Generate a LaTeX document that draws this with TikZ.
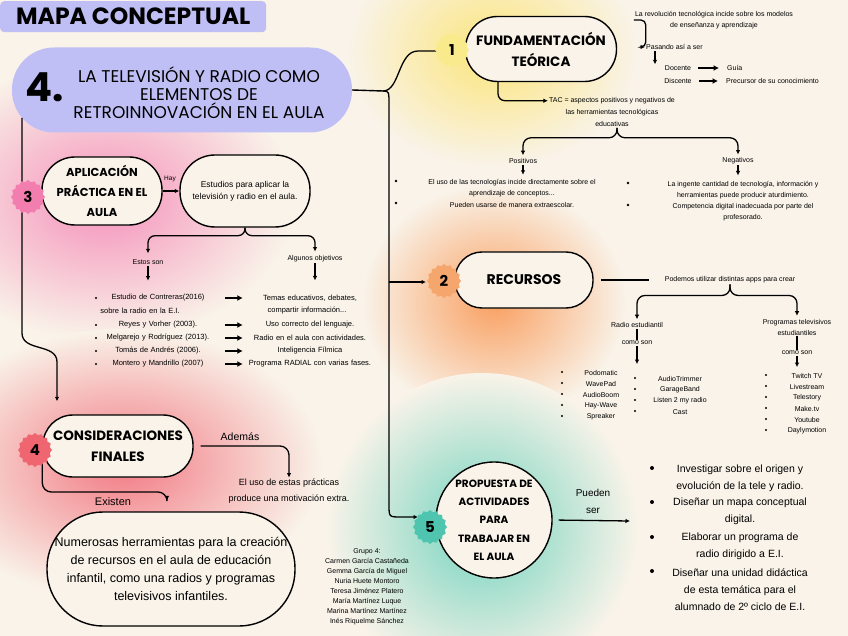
\documentclass[tikz,border=0pt]{standalone}
\usepackage{fontspec}
\setmainfont{Liberation Sans}
\newfontfamily\headfont{Poppins}
\usetikzlibrary{arrows.meta,shapes.geometric,calc}
\definecolor{cmBg}{HTML}{F9F3E9}
\definecolor{cmLav}{HTML}{C0BFF5}
\definecolor{cmYel}{HTML}{F9EA8C}
\definecolor{cmOra}{HTML}{F5A66C}
\definecolor{cmPink}{HTML}{F27DAF}
\definecolor{cmRed}{HTML}{EF6670}
\definecolor{cmTeal}{HTML}{4FC4AE}
\definecolor{glowYel}{HTML}{FBE57A}
\definecolor{glowOra}{HTML}{F9A062}
\definecolor{glowPink}{HTML}{F590BA}
\definecolor{glowRed}{HTML}{F27A84}
\definecolor{glowTeal}{HTML}{72D3BE}

\begin{document}
\begin{tikzpicture}[x=1pt, y=-1pt, font=\fontsize{7}{9}\selectfont,
  pill/.style={draw=black, line width=1.4pt, fill=cmBg, align=center, inner sep=2pt, rounded corners=#1},
  badge/.style={star, star points=16, star point ratio=1.13, minimum size=34pt, inner sep=0pt, fill=#1, font=\headfont\bfseries\fontsize{15}{15}\selectfont},
  item/.style={text width=130pt, align=center, inner sep=2pt, font=\fontsize{7.5}{9}\selectfont},
  small/.style={align=center, inner sep=1pt, font=\fontsize{7}{11}\selectfont},
  acti/.style={align=center, inner sep=1pt, font=\fontsize{10.5}{17}\selectfont},
  arr/.style={-{Latex[length=4.5pt,width=4.5pt]}, line width=1.3pt},
  barr/.style={-{Latex[length=5.5pt,width=6pt]}, line width=1.9pt},
  link/.style={line width=1.4pt},
]
\useasboundingbox (0,0) rectangle (848,636);
\fill[cmBg] (0,0) rectangle (848,636);
% ---- glows ----
\shade[inner color=glowYel, outer color=cmBg] (492,52) ellipse (145pt and 115pt);
\shade[inner color=glowOra, outer color=cmBg] (494,302) ellipse (132pt and 118pt);
\shade[inner color=glowPink, outer color=cmBg] (104,200) ellipse (190pt and 140pt);
\shade[inner color=glowRed, outer color=cmBg] (122,464) ellipse (200pt and 135pt);
\shade[inner color=glowTeal, outer color=cmBg] (482,528) circle (155pt);

% ---- title and main topic ----
\node[fill=cmLav, rounded corners=4pt, minimum width=266pt, minimum height=31pt, anchor=north west,
  font=\headfont\bfseries\fontsize{23.5}{23.5}\selectfont] (title) at (0,1) {MAPA CONCEPTUAL};
\node[fill=cmLav, rounded corners=42pt, minimum width=340pt, minimum height=85pt] (main) at (182,90) {};
\node[font=\headfont\bfseries\fontsize{40}{40}\selectfont] (mainnum) at (45,87) {4.};
\node[font=\headfont\fontsize{17}{18}\selectfont, align=center] (maintxt) at (199,93)
  {LA TELEVISIÓN Y RADIO COMO\\ELEMENTOS DE\\RETROINNOVACIÓN EN EL AULA};

% ---- 1 fundamentacion ----
\node[pill=32pt, minimum width=151pt, minimum height=65pt, font=\headfont\bfseries\fontsize{13.5}{21}\selectfont] (fund) at (541,49) {FUNDAMENTACIÓN\\TEÓRICA};
\node[small] (revo) at (714,20) {La revolución tecnológica incide sobre los modelos\\de enseñanza y aprendizaje};
\node[small, anchor=west] (pasando) at (645,47) {Pasando así a ser};
\node[small] (doc) at (678,68) {Docente};
\node[small, anchor=west] (guia) at (726,68) {Guía};
\node[small] (disc) at (678,81) {Discente};
\node[small, anchor=west] (prec) at (725,81) {Precursor de su conocimiento};
\node[small, font=\fontsize{7}{12}\selectfont] (tac) at (612,112) {TAC = aspectos positivos y negativos de\\las herramientas tecnológicas\\educativas};
\node[small] (pos) at (523,161) {Positivos};
\node[small] (neg) at (738,161) {Negativos};
\node[small] (pos1) at (512,188) {El uso de las tecnologías incide directamente sobre el\\aprendizaje de conceptos...};
\node[small] (pos2) at (512,205) {Pueden usarse de manera extraescolar.};
\node[small] (neg1) at (743,190) {La ingente cantidad de tecnología, información y\\herramientas puede producir aturdimiento.};
\node[small] (neg2) at (743,212) {Competencia digital inadecuada por parte del\\profesorado.};
\foreach \x/\y in {396/181,396/203,628/183,628/205}{\fill (\x,\y) circle (1.3pt);}

% ---- 3 aplicacion ----
\node[pill=33pt, minimum width=120pt, minimum height=68pt, font=\headfont\bfseries\fontsize{11.5}{20}\selectfont] (apli) at (102,191) {APLICACIÓN\\PRÁCTICA EN EL\\AULA};
\node[pill=35pt, minimum width=130pt, minimum height=72pt, font=\fontsize{8.5}{12}\selectfont] (estu) at (245,191) {Estudios para aplicar la\\televisión y radio en el aula.};
\node[small, font=\fontsize{6.5}{7}\selectfont] (hay) at (170,179) {Hay};
\node[small] (estos) at (148,262) {Estos son};
\node[small] (objet) at (315,259) {Algunos objetivos};
\foreach \i/\y/\l/\r in {1/298/{Estudio de Contreras(2016)}/{Temas educativos, debates,},
    2/325/{Reyes y Vorher (2003).}/{Uso correcto del lenguaje.},
    3/338/{Melgarejo y Rodríguez (2013).}/{Radio en el aula con actividades.},
    4/351/{Tomás de Andrés (2006).}/{Inteligencia Fílmica},
    5/364/{Montero y Mandrillo (2007)}/{Programa RADIAL con varias fases.}}{
  \node[item] (est\i) at (158,\y) {\l};
  \node[item] (obj\i) at (310,\y) {\r};
  \draw[barr] (est\i) -- (obj\i);
  \fill (96,\y) circle (1.2pt);
}
\node[item] (est1b) at (140,311) {sobre la radio en la E.I.};
\node[item] (obj1b) at (307,311) {compartir información...};

% ---- 2 recursos ----
\node[pill=27pt, minimum width=138pt, minimum height=56pt, font=\headfont\bfseries\fontsize{14}{14}\selectfont] (rec) at (524,280) {RECURSOS};
\node[small] (podemos) at (730,280) {Podemos utilizar distintas apps para crear};
\node[small] (radio) at (637,325) {Radio estudiantil};
\node[small] (como1) at (637,343) {como son};
\node[small] (prog) at (797,327) {Programas televisivos\\estudiantiles};
\node[small] (como2) at (797,353) {como son};
\foreach \t [count=\i] in {Podomatic,WavePad,AudioBoom,Hay-Wave,Spreaker}{
  \node[small] (rad\i) at (601,{362+11*\i}) {\t};
  \fill (562,{361+11*\i}) circle (1.2pt);
}
\foreach \t [count=\i] in {AudioTrimmer,GarageBand,Listen 2 my radio,Cast}{
  \node[small] (aud\i) at (680,{368+11*\i}) {\t};
  \fill (635,{367+11*\i}) circle (1.2pt);
}
\foreach \t [count=\i] in {Twitch TV,Livestream,Telestory,Make.tv,Youtube,Daylymotion}{
  \node[small] (tv\i) at (807,{365+11*\i}) {\t};
  \fill (766,{364+11*\i}) circle (1.2pt);
}

% ---- 4 consideraciones ----
\node[pill=30pt, minimum width=150pt, minimum height=62pt, font=\headfont\bfseries\fontsize{13.5}{21}\selectfont] (cons) at (118,446) {CONSIDERACIONES\\FINALES};
\node[small, font=\fontsize{10.5}{12}\selectfont] (ademas) at (240,437) {Además};
\node[small, font=\fontsize{9}{16}\selectfont] (uso) at (289,491) {El uso de estas prácticas\\produce una motivación extra.};
\node[small, font=\fontsize{11}{12}\selectfont] (exis) at (113,502) {Existen};
\node[pill=56pt, minimum width=248pt, minimum height=114pt, font=\fontsize{12.5}{18.3}\selectfont] (nume) at (171,569)
  {Numerosas herramientas para la creación\\de recursos en el aula de educación\\infantil, como una radios y programas\\televisivos infantiles.};
\node[small, font=\fontsize{7}{10}\selectfont] (grupo) at (367,587) {Grupo 4:\\Carmen García Castañeda\\Gemma García de Miguel\\Nuria Huete Montoro\\Teresa Jiménez Platero\\María Martínez Luque\\Marina Martínez Martínez\\Inés Riquelme Sánchez};

% ---- 5 propuesta ----
\node[circle, draw=black, line width=1.4pt, fill=cmBg, minimum size=116pt, inner sep=-3pt, align=center,
  font=\headfont\bfseries\fontsize{10.5}{18.3}\selectfont] (prop) at (494,520) {PROPUESTA DE\\ACTIVIDADES\\PARA\\TRABAJAR EN\\EL AULA};
\node[small, font=\fontsize{10}{17}\selectfont] (pued) at (593,501) {Pueden\\ser};
\node[acti] (act1) at (740,478) {Investigar sobre el origen y\\evolución de la tele y radio.};
\node[acti] (act2) at (740,511) {Diseñar un mapa conceptual\\digital.};
\node[acti] (act3) at (740,546) {Elaborar un programa de\\radio dirigido a E.I.};
\node[acti] (act4) at (740,590) {Diseñar una unidad didáctica\\de esta temática para el\\alumnado de 2º ciclo de E.I.};
\foreach \y in {468,502,537,571}{\fill (652,\y) circle (2pt);}

% ---- connectors ----
\coordinate (split) at (383,91);
\coordinate (ldrop) at (22,118);
\coordinate (vline2) at (389,282);
\coordinate (exbend) at (167,492);
\coordinate (actin) at (630,521);
\draw[link] (main.east) -- (split);
\draw[arr] (split) .. controls (400,91) and (398,51) .. (418,51) -- (452,51);
\draw[arr] (split) .. controls (389,91) .. (389,106) -- (389,505) .. controls (389,517) .. (401,517) -- (418,517);
\draw[arr] (vline2) -- (426,282);
\draw[arr, shorten >=13pt] (ldrop) -- (22,333) .. controls (22,352) and (57,343) .. (57,362) -- (cons.north -| 57,0);
% fundamentacion
\draw[arr, rounded corners=5pt] (revo.west) -- ++(12,0) |- (pasando.west);
\draw[arr] ([xshift=10pt]pasando.south west) -- ([xshift=10pt]pasando.south west |- doc.north);
\draw[barr, shorten <=6pt, shorten >=7pt] (doc) -- (guia);
\draw[barr, shorten <=6pt, shorten >=7pt] (disc) -- (prec);
\draw[arr, rounded corners=7pt] ([xshift=-43pt]fund.south) |- ([yshift=-4.5pt]tac.north west);
\draw[arr, rounded corners=8pt, shorten >=2pt] ([xshift=5pt]tac.south) -- ++(0,10) -| (pos.north);
\draw[arr, rounded corners=8pt, shorten >=2pt] ([xshift=5pt]tac.south) -- ++(0,10) -| (neg.north);
\draw[arr] (pos.south) -- ++(0,10);
\draw[arr] (neg.south) -- ++(0,10);
% aplicacion
\draw[arr] (apli) -- (estu);
\draw[arr, rounded corners=7pt, shorten >=5pt] (estu.south) -- ++(0,8) -| (estos.north);
\draw[arr, rounded corners=7pt, shorten >=3pt] (estu.south) -- ++(0,8) -| (objet.north);
\draw[arr] (estos.south) -- ++(0,15);
\draw[arr] (objet.south) -- ++(0,17);
% recursos
\draw[link, shorten <=7pt, shorten >=15pt] (rec.east) -- (podemos.west);
\draw[arr, rounded corners=8pt, shorten >=2pt] (podemos.south) -- ++(0,11) -| (radio.north);
\draw[arr, rounded corners=8pt, shorten >=2pt] (podemos.south) -- ++(0,11) -| (prog.north);
\draw[link] (radio.south) -- (como1.north);
\draw[link] (prog.south) -- (como2.north);
\draw[arr] (como1.south) -- ++(0,18);
\draw[arr] (como2.south) -- ++(0,11);
% consideraciones
\draw[arr, rounded corners=9pt, shorten <=7pt] (cons.east) -| (uso.north);
\draw[arr, rounded corners=9pt, shorten >=11pt] (cons.west) |- (exbend) -- (exbend |- nume.north);
% propuesta
\draw[arr, shorten <=6pt] (prop.east) -- (actin);

% ---- badges ----
\node[badge=cmYel] (b1) at (452,50) {1};
\node[badge=cmOra] (b2) at (444,281) {2};
\node[badge=cmPink] (b3) at (28,197) {3};
\node[badge=cmRed] (b4) at (35,450) {4};
\node[badge=cmTeal] (b5) at (430,527) {5};
\end{tikzpicture}
\end{document}
